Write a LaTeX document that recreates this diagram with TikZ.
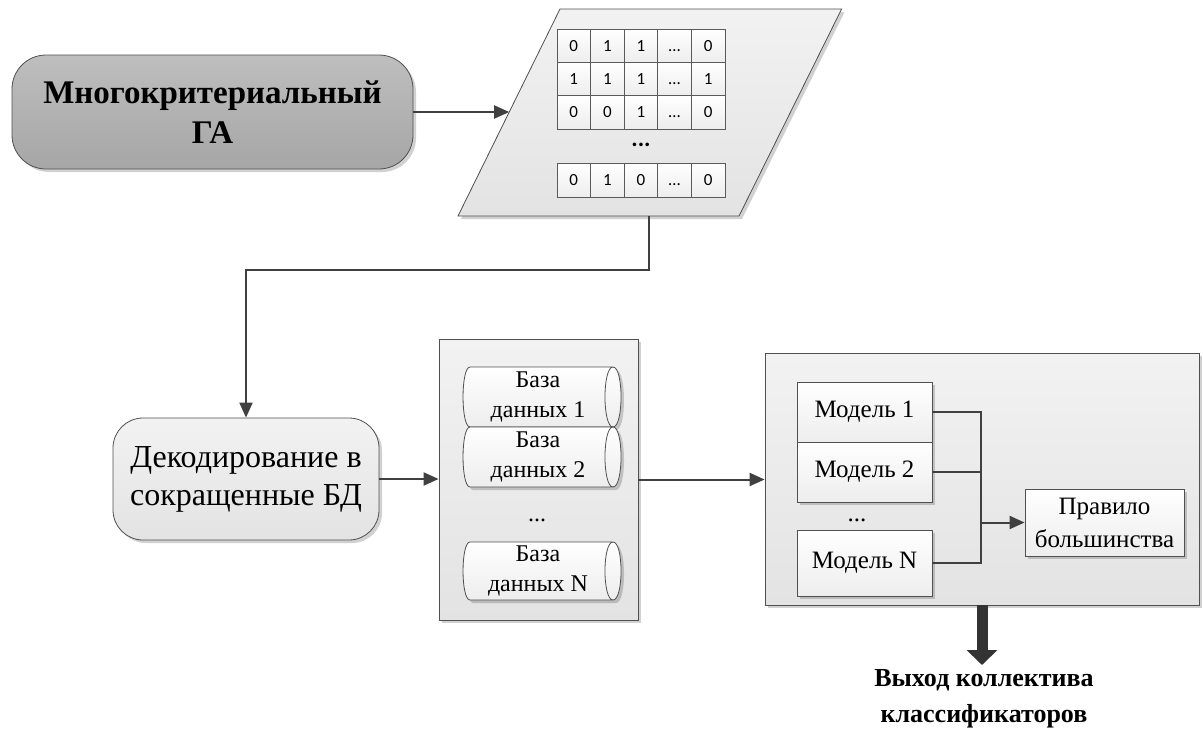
\documentclass[tikz,border=0pt]{standalone}
\usepackage{fontspec}
\setmainfont{Liberation Serif}
\newfontfamily\matfont{Carlito}
\usetikzlibrary{arrows.meta,shapes.geometric,shadows,calc}
\definecolor{linec}{HTML}{404040}
\definecolor{edgec}{HTML}{505050}
\definecolor{cellc}{HTML}{5A5A5A}
\definecolor{cellb}{HTML}{EDEDED}
\definecolor{gaone}{HTML}{BEBEBE}
\definecolor{gatwo}{HTML}{A6A6A6}
\definecolor{contone}{HTML}{F2F2F2}
\definecolor{conttwo}{HTML}{E3E3E3}
\definecolor{outc}{HTML}{333333}
% cylinder outline around a centre coordinate #1, half height #2
\newcommand\dbcyl[2]{%
  \draw[cylline] ($(#1)+(71.5,-#2)$) -- ($(#1)+(-71.5,-#2)$)
    .. controls ($(#1)+(-80.8,-#2)$) and ($(#1)+(-80.8,#2)$) .. ($(#1)+(-71.5,#2)$)
    -- ($(#1)+(71.5,#2)$)
    .. controls ($(#1)+(82.2,#2)$) and ($(#1)+(82.2,-#2)$) .. ($(#1)+(71.5,-#2)$)
    .. controls ($(#1)+(60.8,-#2)$) and ($(#1)+(60.8,#2)$) .. ($(#1)+(71.5,#2)$);}
\begin{document}
\begin{tikzpicture}[x=1pt,y=-1pt,
  every node/.style={inner sep=0pt},
  conn/.style={draw=linec,line width=2pt,-{Triangle[length=15pt,width=13pt]}},
  plainline/.style={draw=linec,line width=2pt},
  shad/.style={drop shadow={shadow xshift=3pt,shadow yshift=-3pt,opacity=0.18,fill=black}},
  gabox/.style={draw=edgec,line width=0.8pt,rounded corners=34pt,top color=gaone,bottom color=gatwo,shad,align=center,font=\bfseries\fontsize{33}{40}\selectfont},
  decbox/.style={draw=edgec,line width=0.8pt,rounded corners=30pt,top color=contone,bottom color=conttwo,shad,align=center,font=\fontsize{32}{38}\selectfont},
  contbox/.style={draw=edgec,line width=0.8pt,top color=contone,bottom color=conttwo,shad},
  cell/.style={draw=cellc,line width=0.8pt,top color=white,bottom color=cellb,minimum width=33.6pt,minimum height=33.3pt,text height=11pt,text depth=0pt,font=\matfont\fontsize{17}{17}\selectfont},
  cylline/.style={draw=edgec,line width=0.8pt,top color=white,bottom color=cellb,shad},
  cyltext/.style={align=center,font=\fontsize{24}{30}\selectfont},
  model/.style={draw=edgec,line width=0.8pt,top color=white,bottom color=cellb,minimum width=135pt,align=center,font=\fontsize{25}{33}\selectfont,shad},
  bigarrow/.style={draw=outc,line width=11pt,-{Triangle[length=15pt,width=30pt]}},
]
\useasboundingbox (0,0) rectangle (1203,729);

% top-left box
\node[gabox,minimum width=401pt,minimum height=114pt] (ga) at (212.5,112) {Многокритериальный\\ГА};

% parallelogram (data)
\path[draw=edgec,line width=0.8pt,top color=contone,bottom color=conttwo,shad]
  (560,9) -- (841.6,9) -- (739,216) -- (458,216) -- cycle;
\coordinate (pin) at (509.2,112);
\coordinate (pout) at (649,216);

% matrix cells
\node[cell] (c11) at (573.8,45.7) {0};
\node[cell] (c12) at (607.4,45.7) {1};
\node[cell] (c13) at (641.0,45.7) {1};
\node[cell] (c14) at (674.6,45.7) {\ldots};
\node[cell] (c15) at (708.2,45.7) {0};
\node[cell] (c21) at (573.8,79.0) {1};
\node[cell] (c22) at (607.4,79.0) {1};
\node[cell] (c23) at (641.0,79.0) {1};
\node[cell] (c24) at (674.6,79.0) {\ldots};
\node[cell] (c25) at (708.2,79.0) {1};
\node[cell] (c31) at (573.8,112.3) {0};
\node[cell] (c32) at (607.4,112.3) {0};
\node[cell] (c33) at (641.0,112.3) {1};
\node[cell] (c34) at (674.6,112.3) {\ldots};
\node[cell] (c35) at (708.2,112.3) {0};
\node[font=\matfont\bfseries\fontsize{24}{24}\selectfont] (mdots) at (641,145) {...};
\node[cell,minimum height=34pt] (c41) at (573.8,180) {0};
\node[cell,minimum height=34pt] (c42) at (607.4,180) {1};
\node[cell,minimum height=34pt] (c43) at (641.0,180) {0};
\node[cell,minimum height=34pt] (c44) at (674.6,180) {\ldots};
\node[cell,minimum height=34pt] (c45) at (708.2,180) {0};

% decoding box
\node[decbox,minimum width=266pt,minimum height=122pt] (dec) at (246,479) {Декодирование в\\сокращенные БД};

% database container
\node[contbox,minimum width=199pt,minimum height=281pt] (dbc) at (538.5,479.5) {};
\coordinate (db1c) at (541.5,397);
\coordinate (db2c) at (541.5,457);
\coordinate (dbnc) at (541.5,571);
\dbcyl{db1c}{30}
\node[cyltext] (db1) at (538,397) {База\\данных 1};
\dbcyl{db2c}{30}
\node[cyltext] (db2) at (538,457) {База\\данных 2};
\node[font=\fontsize{24}{24}\selectfont] (dbdots) at (537,520) {...};
\dbcyl{dbnc}{29}
\node[cyltext] (dbn) at (538,571) {База\\данных N};

% model container
\node[contbox,minimum width=434pt,minimum height=252pt] (mc) at (982,479) {};
\node[model,minimum height=60pt] (m1) at (864.5,412) {Модель 1};
\node[model,minimum height=60pt] (m2) at (864.5,472) {Модель 2};
\node[font=\fontsize{25}{25}\selectfont] (mdots2) at (857,520) {...};
\node[model,minimum height=66pt] (mn) at (864.5,563) {Модель N};
\node[model,minimum width=159pt,minimum height=67pt] (rule) at (1104.5,522.5) {Правило\\большинства};
\coordinate (j) at (981,522.5);

% output text
\node[anchor=north,inner sep=4pt,align=center,font=\bfseries\fontsize{26}{36}\selectfont] (out) at (984,665) {Выход коллектива\\классификаторов};

% connectors
\draw[conn] (ga.east) -- (ga.east -| pin);
\draw[conn] (pout) -- ++(0,54) -| (dec.north);
\draw[conn] (dec.east) -- (dec.east -| dbc.west);
\draw[conn] (dbc.east) -- (dbc.east -| mc.west);
\draw[plainline] (m1.east) -- (m1.east -| j) -- (mn.east -| j) -- (mn.east);
\draw[plainline] (m2.east) -- (m2.east -| j);
\draw[conn] (j) -- (rule.west);
\draw[bigarrow] (mc.south) -- (mc.south |- out.north);
\end{tikzpicture}
\end{document}
